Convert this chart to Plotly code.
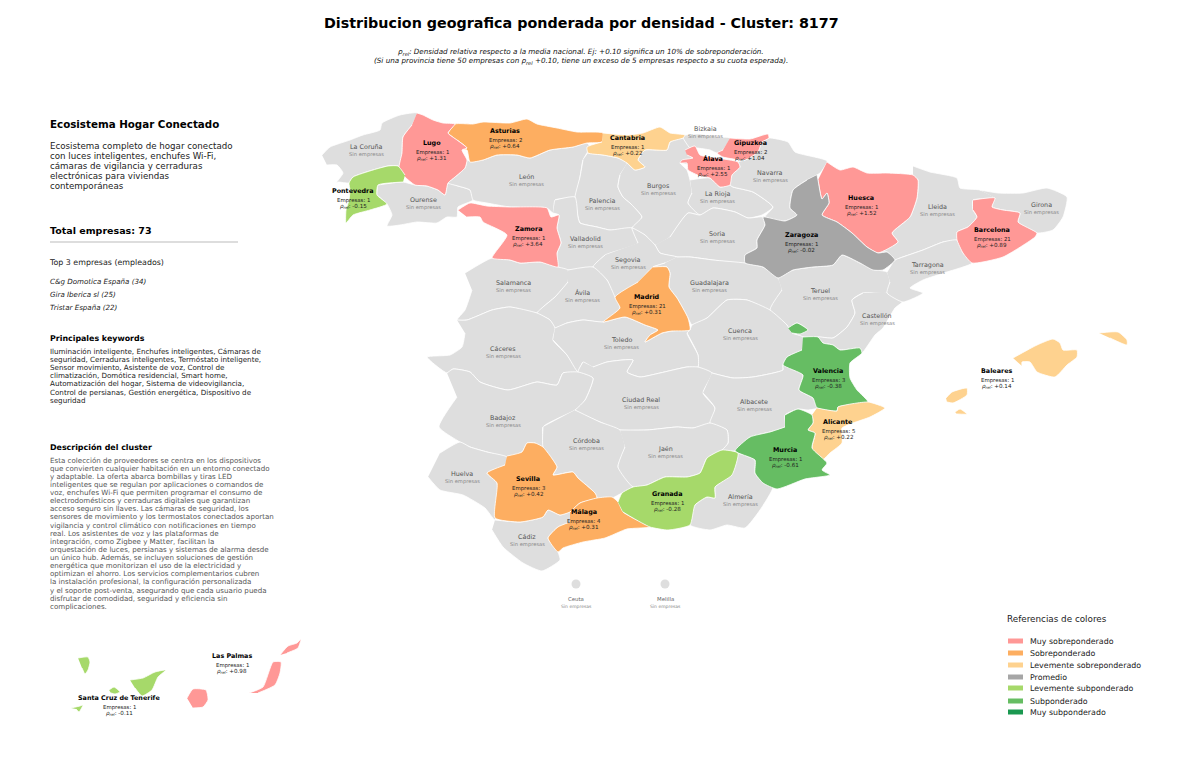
import plotly.graph_objects as go

# colores de las categorias
COLOR_SIN = '#dedede'
CATEGORIAS = ['Muy sobreponderado', 'Sobreponderado', 'Levemente sobreponderado', 'Promedio',
              'Levemente subponderado', 'Subponderado', 'Muy subponderado']
COLORES = ['#ff9896', '#fdae61', '#fed28f', '#a6a6a6', '#a6d96a', '#66bd63', '#1a9850']

# contornos de provincias (x, y)
LA_CORUNA = [(322,155),(330,147),(350,140),(363,135),(380,130),(382,123),(400,115),(417,113),(412,125),(403,137),(402,153),(399,168),(398,166),(388,166),(373,170),(353,177),(349,183),(338,182),(336,183),(343,173),(337,165),(327,165)]
LUGO = [(417,113),(423,115),(433,120),(443,123),(455,124),(448,133),(457,140),(467,148),(462,150),(467,160),(465,168),(455,177),(448,183),(445,195),(438,190),(427,186),(415,185),(405,177),(399,168),(402,153),(403,137),(412,125)]
ASTURIAS = [(448,133),(455,124),(473,124),(483,122),(510,123),(527,119),(537,124),(557,128),(577,132),(603,133),(602,142),(587,143),(573,147),(550,150),(530,158),(517,155),(497,155),(483,160),(470,162),(467,150),(462,150),(467,148),(457,140)]
CANTABRIA = [(603,133),(627,135),(643,133),(660,127),(670,133),(685,135),(683,138),(670,142),(667,150),(645,150),(638,160),(645,167),(635,170),(627,163),(618,158),(603,155),(588,153),(587,147),(602,142)]
PONTEVEDRA = [(405,175),(398,166),(388,166),(373,170),(353,177),(349,183),(350,190),(349,200),(346,210),(346,223),(353,215),(370,210),(387,204),(377,195),(378,185),(403,182)]
OURENSE = [(378,185),(403,182),(415,185),(427,186),(438,190),(445,195),(448,183),(458,186),(470,190),(473,200),(458,207),(457,217),(447,217),(437,223),(417,222),(400,225),(387,226),(392,215),(387,204),(377,195)]
LEON = [(467,160),(465,168),(455,177),(448,183),(458,186),(470,190),(473,200),(487,203),(510,207),(547,208),(553,213),(555,200),(575,197),(580,177),(583,160),(590,147),(587,143),(573,147),(550,150),(530,158),(517,155),(497,155),(483,160),(470,162)]
ZAMORA = [(458,210),(470,203),(487,206),(510,207),(547,208),(551,217),(559,215),(557,228),(561,243),(557,253),(558,267),(540,262),(520,263),(510,260),(492,258),(507,235),(483,222),(480,217),(467,217)]
PALENCIA = [(583,160),(580,177),(575,197),(578,217),(580,223),(597,227),(610,230),(632,228),(642,217),(630,203),(623,197),(618,187),(620,175),(627,163),(618,158),(603,155),(588,153)]
BURGOS = [(627,163),(635,170),(645,167),(638,160),(645,150),(667,150),(670,142),(683,138),(690,148),(692,165),(680,163),(687,170),(690,180),(692,193),(688,203),(700,215),(688,213),(670,237),(655,245),(645,235),(632,228),(642,217),(630,203),(623,197),(618,187),(620,175)]
BIZKAIA = [(685,135),(700,134),(716,137),(730,138),(723,150),(717,153),(710,150),(697,148),(690,148),(683,138)]
GIPUZKOA = [(730,138),(750,139),(768,134),(769,138),(762,142),(758,152),(745,160),(723,157),(717,153),(723,150)]
ALAVA = [(685,150),(695,146),(700,155),(717,158),(738,162),(740,167),(732,175),(730,185),(720,187),(710,178),(700,176),(688,170),(687,163),(680,163),(682,160),(693,158),(687,155)]
NAVARRA = [(762,142),(769,138),(788,142),(795,152),(827,161),(820,173),(807,180),(793,190),(790,208),(797,215),(785,221),(765,217),(773,207),(753,192),(733,187),(730,185),(732,175),(740,167),(738,162),(745,160),(758,152)]
LA_RIOJA = [(690,180),(710,178),(720,187),(730,185),(733,187),(753,192),(773,207),(762,215),(748,218),(735,212),(713,208),(700,215),(688,203),(692,193)]
SORIA = [(670,237),(688,213),(700,215),(713,208),(735,212),(748,218),(763,217),(765,225),(757,240),(757,248),(745,255),(745,263),(713,260),(690,257),(677,257),(660,253),(655,245)]
VALLADOLID = [(555,200),(575,197),(578,217),(580,223),(597,227),(610,230),(632,228),(638,243),(605,255),(593,267),(568,270),(558,267),(557,253),(561,243),(557,228),(559,215),(553,213)]
SEGOVIA = [(638,243),(632,228),(645,235),(655,245),(660,253),(677,257),(665,263),(653,267),(638,282),(615,297),(607,280),(593,267),(605,255)]
GUADALAJARA = [(677,257),(690,257),(713,260),(745,263),(763,267),(778,278),(782,290),(770,310),(747,300),(727,300),(707,318),(692,325),(688,318),(677,298),(669,287),(670,273),(667,267),(653,267),(665,263)]
MADRID = [(653,267),(667,267),(670,273),(669,287),(677,298),(688,318),(690,330),(672,331),(662,333),(645,342),(650,335),(658,330),(645,325),(625,317),(603,322),(620,308),(615,297),(638,282)]
SALAMANCA = [(465,273),(492,258),(510,260),(520,263),(540,262),(558,267),(568,270),(568,282),(555,297),(543,307),(537,313),(510,307),(492,310),(467,320),(457,320),(465,310),(472,290)]
AVILA = [(568,270),(593,267),(607,280),(615,297),(620,308),(603,322),(583,320),(567,323),(555,328),(550,320),(537,313),(543,307),(555,297),(568,282)]
CACERES = [(457,320),(467,320),(492,310),(510,307),(537,313),(550,320),(555,328),(553,340),(567,355),(578,372),(563,373),(557,385),(537,382),(508,390),(480,382),(470,372),(453,369),(447,373),(427,357),(450,355),(462,347),(465,333)]
TOLEDO = [(555,328),(567,323),(583,320),(603,322),(625,317),(645,325),(658,330),(650,335),(645,342),(662,333),(672,331),(690,330),(687,333),(698,355),(698,367),(687,367),(660,373),(640,377),(627,372),(633,360),(607,362),(593,367),(583,362),(578,372),(567,355),(553,340)]
BADAJOZ = [(447,373),(453,369),(470,372),(480,382),(508,390),(537,382),(557,385),(563,373),(578,372),(593,378),(585,400),(575,410),(543,427),(543,447),(535,443),(527,443),(522,452),(507,457),(487,452),(470,447),(460,442),(439,427),(457,397)]
HUELVA = [(440,453),(460,442),(470,447),(487,452),(507,457),(505,465),(487,473),(497,483),(495,520),(485,508),(463,495),(440,490),(428,477)]
CIUDAD_REAL = [(593,367),(607,362),(633,360),(627,372),(640,377),(660,373),(687,367),(698,367),(712,373),(703,393),(715,408),(710,423),(693,428),(677,427),(647,430),(620,430),(600,422),(575,410),(585,400),(593,378),(578,372),(583,362)]
CORDOBA = [(575,410),(600,422),(620,430),(625,447),(618,467),(633,487),(622,493),(612,498),(597,498),(595,493),(578,478),(573,472),(553,475),(557,467),(543,447),(543,427)]
JAEN = [(620,430),(647,430),(677,427),(693,428),(710,423),(727,430),(728,443),(722,450),(707,458),(700,473),(687,477),(665,477),(647,485),(633,487),(618,467),(625,447)]
ALBACETE = [(712,373),(733,378),(753,377),(783,370),(783,365),(803,375),(799,390),(813,398),(817,408),(808,410),(798,409),(785,415),(785,427),(770,432),(750,437),(735,451),(722,450),(728,443),(727,430),(710,423),(715,408),(703,393)]
CUENCA = [(690,330),(692,325),(707,318),(727,300),(747,300),(770,310),(787,325),(792,333),(803,337),(802,350),(787,357),(783,365),(783,370),(753,377),(733,378),(712,373),(698,367),(698,355),(687,333)]
VALENCIA = [(803,337),(818,337),(823,343),(833,345),(840,350),(860,348),(862,353),(850,363),(850,378),(857,390),(868,402),(838,407),(837,411),(817,408),(813,398),(799,390),(803,375),(783,365),(787,357),(802,350),None,(788,328),(797,323),(808,330),(800,334),(792,333)]
TERUEL = [(778,278),(793,270),(813,267),(833,265),(842,255),(860,263),(877,270),(887,272),(890,282),(887,293),(863,293),(852,300),(855,313),(847,327),(833,338),(818,337),(803,337),(792,333),(808,330),(797,323),(788,328),(787,325),(770,310),(782,290)]
CASTELLON = [(887,293),(902,302),(895,308),(883,328),(875,335),(862,353),(860,348),(840,350),(833,345),(823,343),(818,337),(833,338),(847,327),(855,313),(852,300),(863,293)]
TARRAGONA = [(887,272),(895,260),(900,258),(923,250),(943,242),(957,240),(963,253),(972,263),(947,272),(923,280),(910,288),(923,293),(903,302),(887,293),(890,282)]
LLEIDA = [(913,166),(930,172),(957,178),(960,188),(980,190),(995,198),(973,200),(973,210),(977,217),(968,227),(957,232),(957,240),(943,242),(923,250),(900,258),(895,260),(887,252),(878,253),(898,242),(892,233),(910,217),(917,198),(918,180),(913,175)]
HUESCA = [(827,162),(840,170),(853,167),(867,173),(887,173),(913,175),(918,180),(917,198),(910,217),(892,233),(898,242),(878,253),(867,247),(852,233),(837,222),(822,215),(829,203),(827,193),(822,199),(818,180)]
ZARAGOZA = [(817,175),(818,180),(822,199),(827,193),(829,203),(822,215),(837,222),(852,233),(867,247),(878,253),(887,252),(895,260),(883,270),(873,270),(860,263),(842,255),(833,265),(813,267),(793,270),(778,278),(763,267),(745,263),(745,255),(757,248),(757,240),(765,225),(763,217),(785,221),(797,215),(790,208),(793,190),(807,180)]
BARCELONA = [(973,200),(995,198),(992,207),(1003,210),(1020,213),(1018,222),(1037,233),(1035,237),(1003,257),(972,263),(963,253),(957,240),(957,232),(968,227),(977,217),(973,210)]
GIRONA = [(980,190),(998,193),(1023,193),(1047,188),(1067,197),(1063,217),(1053,230),(1037,233),(1018,222),(1020,213),(1003,210),(992,207),(995,198)]
ALICANTE = [(817,408),(837,411),(838,407),(868,402),(885,408),(870,417),(853,423),(842,428),(842,443),(830,453),(820,462),(812,448),(815,433),(808,430),(813,423),(812,415)]
MURCIA = [(785,415),(798,409),(812,415),(813,423),(808,430),(815,433),(812,448),(827,463),(822,470),(830,475),(805,479),(777,489),(763,483),(755,473),(755,460),(735,451),(750,437),(770,432),(785,427)]
ALMERIA = [(738,453),(755,460),(755,473),(763,483),(773,487),(760,510),(745,528),(727,525),(710,530),(690,525),(695,505),(707,497),(715,498),(715,487),(732,475)]
GRANADA = [(618,502),(622,493),(633,487),(647,485),(665,477),(687,477),(700,473),(707,458),(722,450),(738,453),(732,475),(715,487),(715,498),(707,497),(695,505),(690,525),(668,530),(650,527),(633,518),(623,512)]
MALAGA = [(570,512),(580,503),(597,498),(612,497),(618,502),(623,512),(633,518),(650,527),(627,529),(605,538),(583,542),(563,548),(558,552),(548,538),(558,527),(570,522)]
SEVILLA = [(507,456),(522,452),(527,443),(535,443),(543,447),(557,467),(553,475),(573,472),(578,478),(595,493),(597,498),(580,503),(570,512),(560,515),(548,510),(543,517),(520,522),(495,518),(497,483),(487,473),(505,465)]
CADIZ = [(495,520),(520,522),(543,517),(548,510),(560,515),(570,512),(570,522),(558,527),(548,538),(558,552),(560,560),(542,571),(523,563),(503,547),(492,530)]
BALEARES = [(1013,358),(1037,345),(1053,339),(1060,343),(1063,350),(1077,350),(1077,357),(1067,365),(1055,377),(1037,372),(1030,362),(1022,362),(1022,366),None,
            (1099,333),(1118,332),(1127,340),(1127,345),(1110,338),None,
            (946,398),(952,392),(967,388),(967,395),(953,403),(947,402),None,
            (955,412),(960,409),(967,414),(957,414)]
SANTA_CRUZ = [(78,658),(88,657),(90,662),(88,670),(85,674),(82,668),None,
              (130,680),(143,678),(155,672),(166,670),(158,677),(152,690),(142,696),(135,688),None,
              (109,690),(114,687),(120,692),(115,694),(111,693),None,
              (71,708),(80,706),(83,705),(79,712),(76,709)]
LAS_PALMAS = [(187,698),(193,689),(206,690),(208,700),(203,707),(193,708),None,
              (249,693),(263,687),(273,662),(281,662),(280,673),(275,685),(258,693),None,
              (280,655),(288,646),(297,643),(301,639),(298,648),(287,653)]

# provincias sin empresas: nombre, contorno
SIN_NOMBRES = ['La Coruña', 'Ourense', 'León', 'Palencia', 'Burgos', 'Bizkaia', 'La Rioja', 'Navarra', 'Soria',
               'Valladolid', 'Segovia', 'Salamanca', 'Ávila', 'Guadalajara', 'Teruel', 'Castellón', 'Lleida',
               'Girona', 'Tarragona', 'Cuenca', 'Cáceres', 'Toledo', 'Ciudad Real', 'Albacete', 'Badajoz',
               'Córdoba', 'Jaén', 'Huelva', 'Almería', 'Cádiz']
SIN_SHAPES = [LA_CORUNA, OURENSE, LEON, PALENCIA, BURGOS, BIZKAIA, LA_RIOJA, NAVARRA, SORIA, VALLADOLID, SEGOVIA,
              SALAMANCA, AVILA, GUADALAJARA, TERUEL, CASTELLON, LLEIDA, GIRONA, TARRAGONA, CUENCA, CACERES, TOLEDO,
              CIUDAD_REAL, ALBACETE, BADAJOZ, CORDOBA, JAEN, HUELVA, ALMERIA, CADIZ]
SIN_X = [366, 423, 526, 602, 658, 705, 717, 770, 717, 585, 628, 513, 582, 709, 820, 877, 937, 1041, 927, 740, 503,
         621, 641, 754, 503, 586, 665, 462, 740, 527]
SIN_Y = [147, 200, 177, 201, 186, 129, 194, 173, 234, 239, 260, 283, 293, 283, 291, 316, 207, 205, 265, 331, 349,
         340, 400, 402, 418, 441, 449, 474, 497, 537]

# provincias con empresas
CON_NOMBRES = ['Asturias', 'Lugo', 'Cantabria', 'Gipuzkoa', 'Álava', 'Pontevedra', 'Huesca', 'Zaragoza', 'Barcelona',
               'Zamora', 'Madrid', 'Valencia', 'Baleares', 'Alicante', 'Murcia', 'Sevilla', 'Málaga', 'Granada',
               'Las Palmas', 'Santa Cruz de Tenerife']
CON_SHAPES = [ASTURIAS, LUGO, CANTABRIA, GIPUZKOA, ALAVA, PONTEVEDRA, HUESCA, ZARAGOZA, BARCELONA, ZAMORA, MADRID,
              VALENCIA, BALEARES, ALICANTE, MURCIA, SEVILLA, MALAGA, GRANADA, LAS_PALMAS, SANTA_CRUZ]
EMPRESAS = [2, 1, 1, 2, 1, 1, 1, 1, 21, 1, 21, 3, 1, 5, 1, 3, 4, 1, 1, 1]
RHO = ['+0.64', '+1.31', '+0.22', '+1.04', '+2.55', '-0.15', '+1.52', '-0.02', '+0.89', '+3.64', '+0.31', '-0.38',
       '+0.14', '+0.22', '-0.61', '+0.42', '+0.31', '-0.28', '+0.98', '-0.11']
CATEGORIA_IDX = [1, 0, 2, 0, 0, 4, 0, 3, 0, 0, 1, 5, 2, 2, 5, 1, 1, 4, 0, 4]
CON_X = [505, 432, 627, 750, 713, 353, 861, 801, 992, 528, 647, 828, 997, 838, 785, 528, 584, 667, 232, 119]
CON_Y = [131, 143, 138, 143, 159, 191, 198, 235, 230, 229, 297, 371, 371, 422, 450, 479, 512, 494, 656, 698]

# ciudades autonomas
CIUDADES = ['Ceuta', 'Melilla']
CIUDADES_X = [576, 665]
CIUDADES_Y = [584, 584]

TITULO = 'Distribucion geografica ponderada por densidad - Cluster: 8177'
RHO_TXT = '<i>ρ</i><sub><i>rel</i></sub>'
SUBTITULO = [RHO_TXT + '<i>: Densidad relativa respecto a la media nacional. Ej: +0.10 significa un 10% de sobreponderación.</i>',
             '<i>(Si una provincia tiene 50 empresas con </i>' + RHO_TXT + '<i> +0.10, tiene un exceso de 5 empresas respecto a su cuota esperada).</i>']

DESCRIPCION_CORTA = ['Ecosistema completo de hogar conectado', 'con luces inteligentes, enchufes Wi-Fi,',
                     'cámaras de vigilancia y cerraduras', 'electrónicas para viviendas', 'contemporáneas']
TOP_EMPRESAS = ['C&g Domotica España (34)', 'Gira Iberica sl (25)', 'Tristar España (22)']
KEYWORDS = ['Iluminación inteligente, Enchufes inteligentes, Cámaras de',
            'seguridad, Cerraduras inteligentes, Termóstato inteligente,',
            'Sensor movimiento, Asistente de voz, Control de',
            'climatización, Domótica residencial, Smart home,',
            'Automatización del hogar, Sistema de videovigilancia,',
            'Control de persianas, Gestión energética, Dispositivo de',
            'seguridad']
DESCRIPCION = ['Esta colección de proveedores se centra en los dispositivos',
               'que convierten cualquier habitación en un entorno conectado',
               'y adaptable. La oferta abarca bombillas y tiras LED',
               'inteligentes que se regulan por aplicaciones o comandos de',
               'voz, enchufes Wi-Fi que permiten programar el consumo de',
               'electrodomésticos y cerraduras digitales que garantizan',
               'acceso seguro sin llaves. Las cámaras de seguridad, los',
               'sensores de movimiento y los termostatos conectados aportan',
               'vigilancia y control climático con notificaciones en tiempo',
               'real. Los asistentes de voz y las plataformas de',
               'integración, como Zigbee y Matter, facilitan la',
               'orquestación de luces, persianas y sistemas de alarma desde',
               'un único hub. Además, se incluyen soluciones de gestión',
               'energética que monitorizan el uso de la electricidad y',
               'optimizan el ahorro. Los servicios complementarios cubren',
               'la instalación profesional, la configuración personalizada',
               'y el soporte post-venta, asegurando que cada usuario pueda',
               'disfrutar de comodidad, seguridad y eficiencia sin',
               'complicaciones.']

FONT = 'DejaVu Sans'
fig = go.Figure()


def poligono(puntos, color, nombre):
    xs = [p[0] if p else None for p in puntos]
    ys = [p[1] if p else None for p in puntos]
    fig.add_trace(go.Scatter(x=xs, y=ys, fill='toself', fillcolor=color, mode='lines',
                             line=dict(color='white', width=0.8, shape='spline', smoothing=0.5),
                             name=nombre, hoverinfo='name'))


def texto(x, y, s, size, color='black', anchor='center', bold=False):
    if bold:
        s = '<b>' + s + '</b>'
    fig.add_annotation(x=x, y=y, text=s, showarrow=False, xanchor=anchor, yanchor='middle',
                       borderpad=0, font=dict(family=FONT, size=size, color=color))


for nombre, forma in zip(SIN_NOMBRES, SIN_SHAPES):
    poligono(forma, COLOR_SIN, nombre)
for nombre, forma, idx in zip(CON_NOMBRES, CON_SHAPES, CATEGORIA_IDX):
    poligono(forma, COLORES[idx], nombre)

fig.add_trace(go.Scatter(x=CIUDADES_X, y=CIUDADES_Y, mode='markers', hoverinfo='skip',
                         marker=dict(color=COLOR_SIN, size=9)))

# etiquetas del mapa
for nombre, x, y in zip(SIN_NOMBRES, SIN_X, SIN_Y):
    texto(x, y, nombre, 6.4, '#555555')
    texto(x, y + 7.5, 'Sin empresas', 5.2, '#888888')
for nombre, x, y, emp, rho in zip(CON_NOMBRES, CON_X, CON_Y, EMPRESAS, RHO):
    texto(x, y, nombre, 6.4, 'black', bold=True)
    texto(x, y + 9, 'Empresas: %d' % emp, 5.4, '#222222')
    texto(x, y + 15, RHO_TXT + ': ' + rho, 5.6, '#222222')
for nombre, x, y in zip(CIUDADES, CIUDADES_X, CIUDADES_Y):
    texto(x, y + 15, nombre, 5.4, '#666666')
    texto(x, y + 22, 'Sin empresas', 4.5, '#888888')

# titulo
texto(581, 23, TITULO, 14.3, 'black', bold=True)
texto(581, 52, SUBTITULO[0], 7.2, '#111111')
texto(581, 61, SUBTITULO[1], 7.2, '#111111')

# panel izquierdo (las anotaciones llevan 1px de margen propio)
PANEL_X = 49
texto(PANEL_X, 124, 'Ecosistema Hogar Conectado', 10.3, 'black', 'left', True)
for i, s in enumerate(DESCRIPCION_CORTA):
    texto(PANEL_X, 146 + i * 10, s, 8.7, '#222222', 'left')
texto(PANEL_X, 230, 'Total empresas: 73', 9.5, 'black', 'left', True)
fig.add_shape(type='line', x0=50, x1=238, y0=242, y1=242, line=dict(color='#bbbbbb', width=1))
texto(PANEL_X - 1, 262, 'Top 3 empresas (empleados)', 7.9, '#222222', 'left')
for i, s in enumerate(TOP_EMPRESAS):
    texto(PANEL_X, 281 + i * 13, '<i>' + s + '</i>', 7.1, '#222222', 'left')
texto(PANEL_X, 338, 'Principales keywords', 7.9, 'black', 'left', True)
for i, s in enumerate(KEYWORDS):
    texto(PANEL_X, 351 + i * 8.2, s, 7.15, '#222222', 'left')
texto(PANEL_X, 447, 'Descripción del cluster', 7.9, 'black', 'left', True)
for i, s in enumerate(DESCRIPCION):
    texto(PANEL_X, 460 + i * 8.13, s, 7.1, '#555555', 'left')

# leyenda manual
texto(1006, 619, 'Referencias de colores', 8.8, '#222222', 'left')
LEYENDA_Y = [641, 653, 665, 677, 688, 701, 712]
for cat, color, y in zip(CATEGORIAS, COLORES, LEYENDA_Y):
    fig.add_shape(type='rect', x0=1008, x1=1023, y0=y - 2.5, y1=y + 2.5, fillcolor=color, line=dict(width=0))
    texto(1029, y, cat, 7.9, '#222222', 'left')

fig.update_layout(width=1200, height=761, margin=dict(l=0, r=0, t=0, b=0), showlegend=False,
                  plot_bgcolor='white', paper_bgcolor='white',
                  xaxis=dict(range=[0, 1200], visible=False),
                  yaxis=dict(range=[761, 0], visible=False))
# quita el margen del body para que la figura quede en 0,0
fig.write_html("out.html", config={'displayModeBar': False},
               post_script="document.body.style.margin='0';")
